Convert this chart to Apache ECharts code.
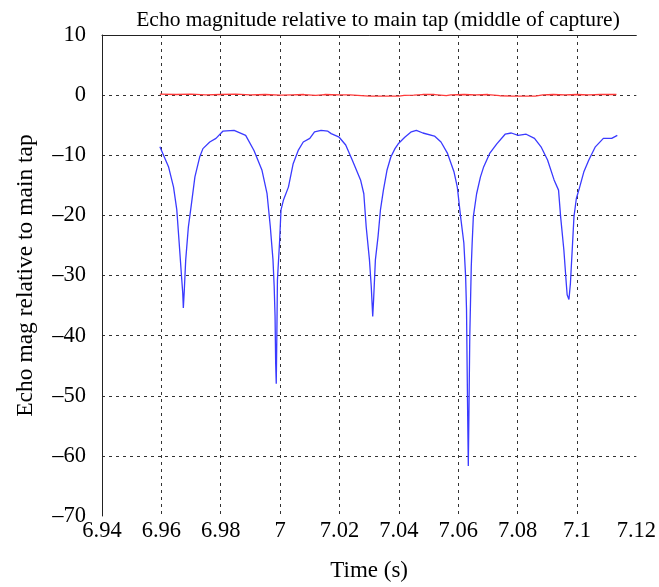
<!DOCTYPE html>
<html>
<head>
<meta charset="utf-8">
<script src="https://cdn.jsdelivr.net/npm/echarts@6/dist/echarts.min.js"></script>
<style>html,body{margin:0;padding:0;background:#fff;}#c{width:659px;height:587px;}</style>
</head>
<body>
<div id="c"></div>
<script>
const xTicks = [6.94, 6.96, 6.98, 7.00, 7.02, 7.04, 7.06, 7.08, 7.10, 7.12];
const yTicks = [10, 0, -10, -20, -30, -40, -50, -60, -70];

const echoTime = [6.9595,6.9624,6.9641,6.9652,6.9660,6.9668,6.9672,6.9674,6.9677,6.9682,6.9691,6.9700,6.9713,6.9729,6.9740,6.9763,6.9784,6.9807,6.9845,6.9884,6.9912,6.9939,6.9956,6.9967,6.9976,6.9980,6.9983,6.9985,6.9987,6.9989,6.9991,6.9998,7.0003,7.0011,7.0028,7.0044,7.0061,7.0078,7.0100,7.0116,7.0138,7.0161,7.0172,7.0199,7.0221,7.0243,7.0271,7.0282,7.0290,7.0301,7.0307,7.0312,7.0315,7.0321,7.0330,7.0338,7.0348,7.0360,7.0373,7.0387,7.0398,7.0420,7.0442,7.0459,7.0481,7.0520,7.0542,7.0564,7.0586,7.0597,7.0608,7.0619,7.0625,7.0628,7.0630,7.0632,7.0634,7.0636,7.0639,7.0644,7.0647,7.0651,7.0662,7.0675,7.0686,7.0706,7.0730,7.0758,7.0779,7.0802,7.0829,7.0857,7.0879,7.0901,7.0923,7.0938,7.0945,7.0956,7.0964,7.0967,7.0973,7.0978,7.0984,7.0990,7.0998,7.1008,7.1023,7.1040,7.1062,7.1089,7.1117,7.1136];
const echoMag = [-8.6,-11.9,-15.3,-19.1,-24.6,-30.2,-32.9,-35.4,-32.7,-27.4,-21.9,-18.6,-13.6,-10.3,-8.9,-7.8,-7.2,-6.0,-5.85,-6.7,-9.2,-12.5,-16.4,-21.9,-27.4,-31.8,-36.8,-44.5,-48.0,-40.0,-30.7,-24.6,-19.1,-17.5,-15.3,-11.4,-9.2,-7.8,-7.2,-6.1,-5.85,-6.0,-6.4,-7.0,-8.3,-10.8,-14.1,-16.4,-21.9,-27.4,-31.8,-36.8,-34.0,-27.4,-23.5,-19.1,-15.8,-12.5,-10.3,-8.9,-8.1,-7.0,-6.1,-5.85,-6.3,-6.8,-7.8,-9.7,-12.8,-15.3,-20.2,-24.6,-30.2,-35.7,-45.0,-53.7,-61.7,-53.4,-40.0,-28.5,-24.6,-20.2,-16.4,-13.6,-11.9,-9.7,-8.1,-6.5,-6.3,-6.7,-6.5,-7.2,-8.6,-10.8,-14.1,-15.8,-20.2,-25.8,-31.3,-33.2,-34.0,-31.3,-25.8,-20.2,-17.2,-15.5,-12.8,-10.8,-8.6,-7.2,-7.2,-6.7];

const mainTime = [6.9595,6.965,6.970,6.975,6.980,6.985,6.990,6.995,7.000,7.004,7.008,7.012,7.015,7.020,7.0235,7.024,7.030,7.035,7.040,7.0418,7.045,7.048,7.052,7.056,7.0575,7.062,7.066,7.070,7.074,7.078,7.082,7.086,7.0885,7.092,7.096,7.100,7.104,7.108,7.1133];
const mainMag = [0.15,0.1,0.15,0.05,0.1,0.15,0.05,0.1,0.0,0.05,0.1,-0.05,0.1,0.05,0.05,-0.15,-0.15,-0.15,-0.15,-0.05,0.0,0.1,0.1,-0.1,0.05,0.1,0.05,0.1,-0.1,-0.15,-0.15,-0.15,0.05,0.1,0.05,0.1,0.05,0.1,0.1];

const FONT = 'Liberation Serif';
const chart = echarts.init(document.getElementById('c'), null, {renderer: 'canvas'});
const gridDash = {color: '#333', width: 1, type: [3, 4]};
chart.setOption({
  animation: false,
  backgroundColor: '#fff',
  title: {
    text: 'Echo magnitude relative to main tap (middle of capture)',
    left: 373, top: 4, textAlign: 'center',
    textStyle: {fontFamily: FONT, fontSize: 21.5, fontWeight: 'normal', color: '#000'}
  },
  grid: {left: 102, right: 14, top: 35, bottom: 70, containLabel: false},
  xAxis: [{
    type: 'value', min: xTicks[0], max: xTicks[xTicks.length - 1], interval: 0.02,
    name: 'Time (s)', nameLocation: 'middle', nameGap: 43,
    nameTextStyle: {fontFamily: FONT, fontSize: 23, color: '#000'},
    axisLine: {show: false}, axisTick: {show: false},
    axisLabel: {fontFamily: FONT, fontSize: 22.5, color: '#000', margin: 4,
      showMinLabel: true, showMaxLabel: true,
      formatter: v => String(parseFloat(v.toFixed(2)))},
    splitLine: {show: true, showMinLine: false, showMaxLine: false, lineStyle: gridDash}
  }, {
    type: 'value', position: 'top', min: xTicks[0], max: xTicks[xTicks.length - 1], interval: 0.02,
    axisLine: {show: true, lineStyle: {color: '#222', width: 1}},
    axisTick: {show: false}, axisLabel: {show: false}, splitLine: {show: false}
  }],
  yAxis: {
    type: 'value', min: yTicks[yTicks.length - 1], max: yTicks[0], interval: 10,
    name: 'Echo mag relative to main tap', nameLocation: 'middle', nameGap: 64,
    nameTextStyle: {fontFamily: FONT, fontSize: 23.5, color: '#000'},
    axisLine: {show: true, lineStyle: {color: '#222', width: 1}},
    axisTick: {show: false},
    axisLabel: {fontFamily: FONT, fontSize: 22.5, color: '#000', margin: 16,
      formatter: v => String(v).replace('-', '\u2013')},
    splitLine: {show: true, showMinLine: false, showMaxLine: false, lineStyle: gridDash}
  },
  series: [{
    type: 'line', name: 'main', showSymbol: false, symbol: 'none',
    data: mainTime.map((t, i) => [t, mainMag[i]]),
    lineStyle: {color: '#ff3a3a', width: 1.3}, z: 3
  }, {
    type: 'line', name: 'echo', showSymbol: false, symbol: 'none',
    data: echoTime.map((t, i) => [t, echoMag[i]]),
    lineStyle: {color: '#3a3aff', width: 1.3}, z: 4
  }]
});
</script>
</body>
</html>
